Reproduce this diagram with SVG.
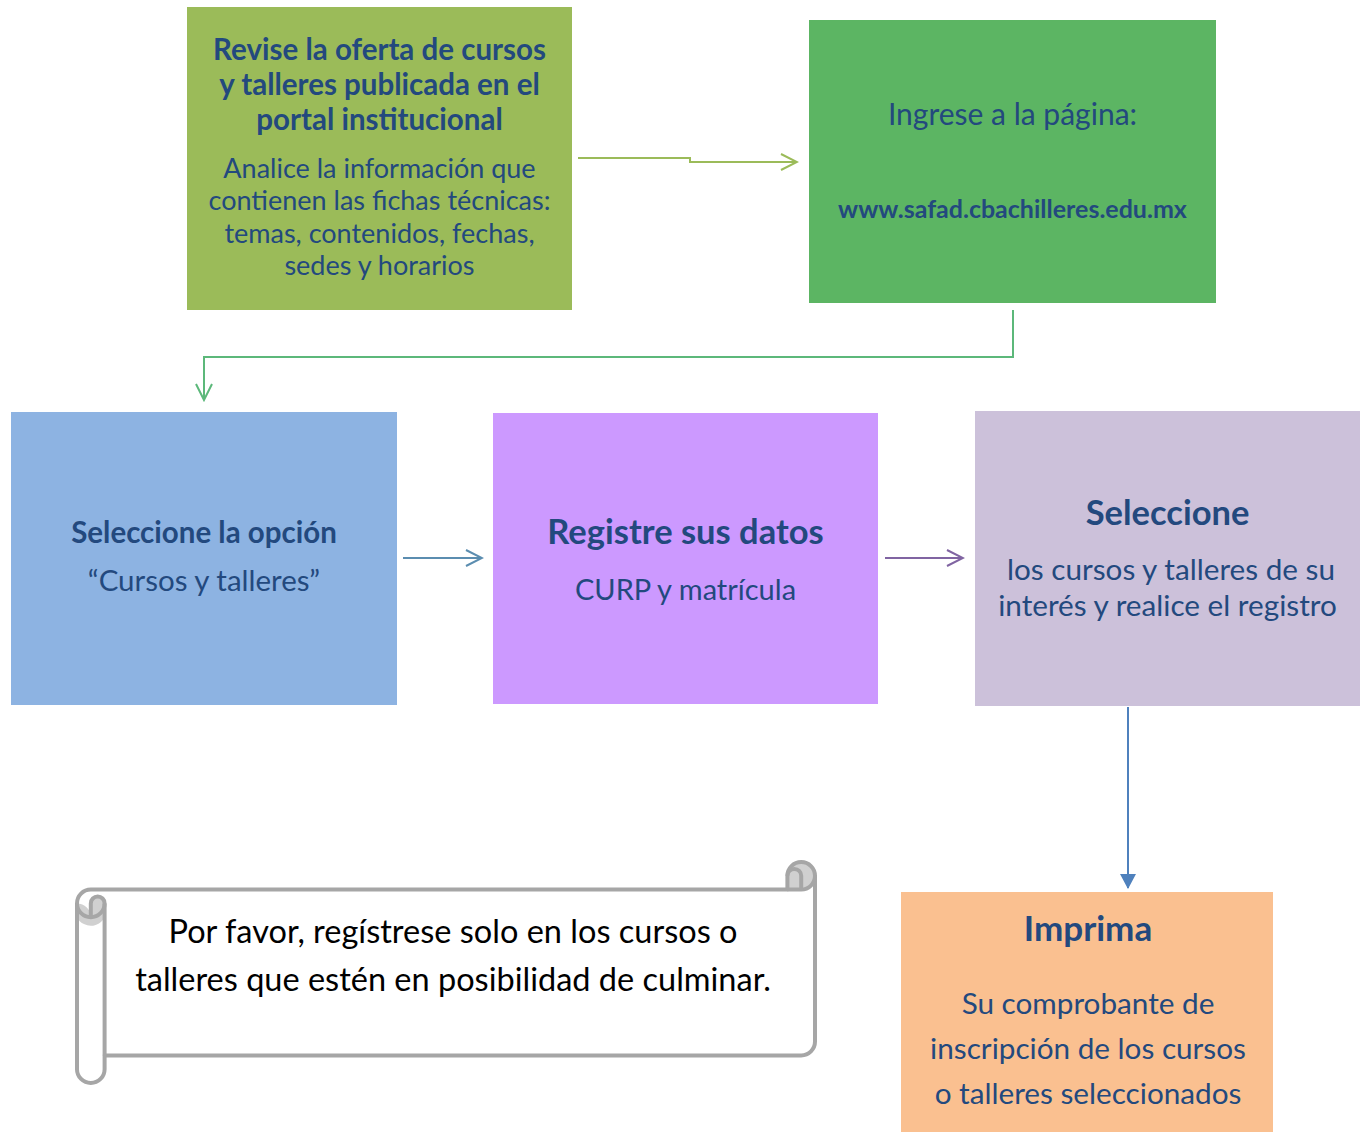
<svg xmlns="http://www.w3.org/2000/svg" width="1364" height="1133" viewBox="0 0 1364 1133">
<style>
text{font-family:Lato,"Open Sans","Liberation Sans",sans-serif;fill:#23497E;text-anchor:middle}
.b{font-weight:bold}
.note{fill:#000}
.c{fill:none;stroke-width:2}
</style>
<defs>
<marker id="aGreen1" markerWidth="20" markerHeight="20" refX="18" refY="10" orient="auto" markerUnits="userSpaceOnUse"><path d="M2,2 L18,10 L2,18" fill="none" stroke="#9BBB59" stroke-width="2"/></marker>
<marker id="aGreen2" markerWidth="20" markerHeight="20" refX="18" refY="10" orient="auto" markerUnits="userSpaceOnUse"><path d="M2,2 L18,10 L2,18" fill="none" stroke="#5CB87A" stroke-width="2"/></marker>
<marker id="aBlue" markerWidth="20" markerHeight="20" refX="18" refY="10" orient="auto" markerUnits="userSpaceOnUse"><path d="M2,2 L18,10 L2,18" fill="none" stroke="#5B8DB0" stroke-width="2"/></marker>
<marker id="aPurple" markerWidth="20" markerHeight="20" refX="18" refY="10" orient="auto" markerUnits="userSpaceOnUse"><path d="M2,2 L18,10 L2,18" fill="none" stroke="#8064A2" stroke-width="2"/></marker>
<marker id="aFill" markerWidth="16" markerHeight="16" refX="14" refY="8" orient="auto" markerUnits="userSpaceOnUse"><path d="M0,0 L15,8 L0,16 Z" fill="#4F81BD"/></marker>
</defs>

<g id="n1">
<rect x="187" y="7" width="385" height="303" fill="#9BBB59"/>
<text class="b" font-size="29.5" x="379.5" y="60">Revise la oferta de cursos</text>
<text class="b" font-size="29.5" x="379.5" y="95">y talleres publicada en el</text>
<text class="b" font-size="29.5" x="379.5" y="130">portal institucional</text>
<text font-size="27" x="379.5" y="178">Analice la información que</text>
<text font-size="27" x="379.5" y="210">contienen las fichas técnicas:</text>
<text font-size="27" x="379.5" y="243">temas, contenidos, fechas,</text>
<text font-size="27" x="379.5" y="275">sedes y horarios</text>
</g>

<g id="n2">
<rect x="809" y="20" width="407" height="283" fill="#5CB563"/>
<text font-size="30" x="1012.5" y="125">Ingrese a la página:</text>
<text class="b" font-size="25" x="1012.5" y="218">www.safad.cbachilleres.edu.mx</text>
</g>

<g id="n3">
<rect x="11" y="412" width="386" height="293" fill="#8DB3E2"/>
<text class="b" font-size="29.5" x="204" y="543">Seleccione la opción</text>
<text font-size="29.5" x="204" y="591">“Cursos y talleres”</text>
</g>

<g id="n4">
<rect x="493" y="413" width="385" height="291" fill="#CC99FF"/>
<text class="b" font-size="34.5" x="685.5" y="544">Registre sus datos</text>
<text font-size="29" x="685.5" y="600">CURP y matrícula</text>
</g>

<g id="n5">
<rect x="975" y="411" width="385" height="295" fill="#CCC1DA"/>
<text class="b" font-size="34.5" x="1167.5" y="525">Seleccione</text>
<text font-size="29.7" x="1171" y="580">los cursos y talleres de su</text>
<text font-size="29.7" x="1167.5" y="616">interés y realice el registro</text>
</g>

<g id="n6">
<rect x="901" y="892" width="372" height="240" fill="#FAC090"/>
<text class="b" font-size="35" x="1088" y="941">Imprima</text>
<text font-size="29.7" x="1088" y="1014">Su comprobante de</text>
<text font-size="29.7" x="1088" y="1059">inscripción de los cursos</text>
<text font-size="29.7" x="1088" y="1104">o talleres seleccionados</text>
</g>

<g id="note" transform="translate(77,862)">
<path d="M0,41.4 A13.8,13.8 0 0 1 13.8,27.6 L710.4,27.6 L710.4,13.8 A13.8,13.8 0 0 1 738,13.8 L738,179.6 A13.8,13.8 0 0 1 724.2,193.4 L27.6,193.4 L27.6,207.2 A13.8,13.8 0 0 1 0,207.2 Z" fill="#fff"/>
<path d="M710.4,27.6 L724.2,27.6 A13.8,13.8 0 0 0 738,13.8 A13.8,13.8 0 0 0 710.4,13.8 Z" fill="#D0D0D0"/>
<path d="M13.8,55.2 L13.8,41.4 A6.9,6.9 0 0 1 27.6,41.4 L27.6,55.2 A13.8,13.8 0 0 1 0,41.4 A13.8,13.8 0 0 1 13.8,55.2Z" fill="#D0D0D0"/>
<g fill="none" stroke="#A6A6A6" stroke-width="4" stroke-linejoin="round">
<path d="M0,41.4 A13.8,13.8 0 0 1 13.8,27.6 L710.4,27.6 L710.4,13.8 A13.8,13.8 0 0 1 738,13.8 L738,179.6 A13.8,13.8 0 0 1 724.2,193.4 L27.6,193.4 L27.6,207.2 A13.8,13.8 0 0 1 0,207.2 Z"/>
<path d="M710.4,27.6 L724.2,27.6 A13.8,13.8 0 0 0 738,13.8"/>
<path d="M724.2,27.6 L724.2,13.8 A6.9,6.9 0 0 0 710.4,13.8"/>
<path d="M13.8,55.2 L13.8,41.4 A6.9,6.9 0 0 1 27.6,41.4 A13.8,13.8 0 0 1 0,41.4"/>
<path d="M27.6,41.4 L27.6,193.4"/>
</g>
<text class="note" font-size="32.5" x="376" y="81">Por favor, regístrese solo en los cursos o</text>
<text class="note" font-size="32.5" x="376" y="129">talleres que estén en posibilidad de culminar.</text>
</g>

<g id="connectors">
<path class="c" d="M578,158 L690,158 L690,162 L797,162" stroke="#9BBB59" marker-end="url(#aGreen1)"/>
<path class="c" d="M1013,310 L1013,357 L204,357 L204,400" stroke="#5CB87A" marker-end="url(#aGreen2)"/>
<path class="c" d="M403,558 L482,558" stroke="#5B8DB0" marker-end="url(#aBlue)"/>
<path class="c" d="M885,558 L963,558" stroke="#8064A2" marker-end="url(#aPurple)"/>
<path class="c" d="M1128,707 L1128,888" stroke="#4F81BD" marker-end="url(#aFill)"/>
</g>
</svg>
